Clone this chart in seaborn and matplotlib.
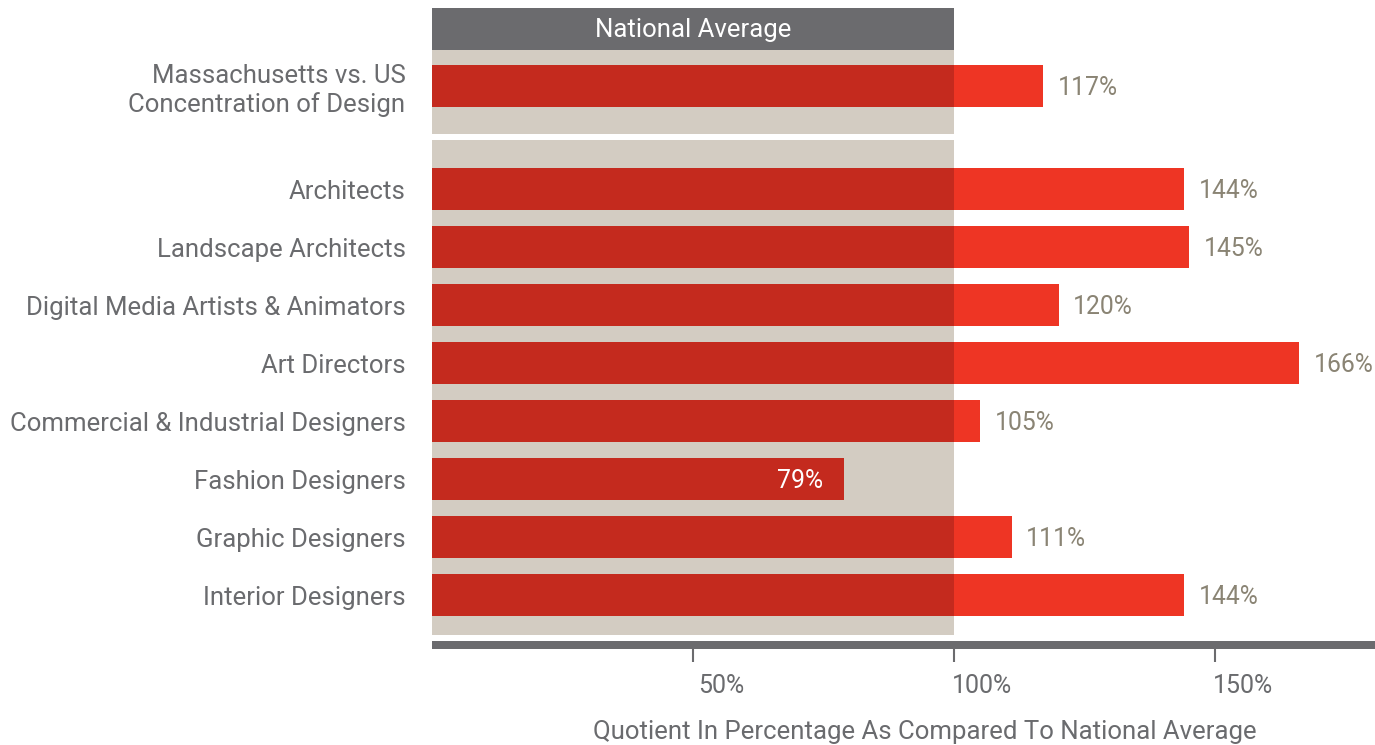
import matplotlib
matplotlib.use("Agg")
import matplotlib.pyplot as plt
import matplotlib.transforms as mtransforms
from matplotlib.patches import Rectangle
import seaborn as sns
import pandas as pd

categories = ["Massachusetts vs. US\nConcentration of Design", "Architects", "Landscape Architects",
              "Digital Media Artists & Animators", "Art Directors",
              "Commercial & Industrial Designers", "Fashion Designers",
              "Graphic Designers", "Interior Designers"]
values = [117, 144, 145, 120, 166, 105, 79, 111, 144]
tick_values = [50, 100, 150]
tick_labels = ["50%", "100%", "150%"]
header_text = "National Average"
x_label = "Quotient In Percentage As Compared To National Average"

DARK = "#c42a1e"
BRIGHT = "#ee3524"
BEIGE = "#d3ccc2"
GRAY = "#6b6b6e"
TEXT = "#6a6b6e"
VAL = "#8a8474"

sns.set_theme(style="white")
plt.rcParams["font.family"] = ["Roboto", "DejaVu Sans"]

gap = 1.776
positions = [0.0] + [gap + i for i in range(len(categories) - 1)]
df = pd.DataFrame({"cat": categories, "value": values, "pos": positions})
df["dark"] = df["value"].clip(upper=100)

fig = plt.figure(figsize=(13.75, 7.45), dpi=100)
W, H = 1375, 745
ax_top, ax_bot = 8, 645
ax = fig.add_axes([432 / W, (H - ax_bot) / H, 1 - 432 / W, (ax_bot - ax_top) / H])

sns.barplot(data=df, x="value", y="pos", orient="h", native_scale=True,
            width=0.72, color=BRIGHT, saturation=1, linewidth=0, ax=ax, zorder=2)
sns.barplot(data=df, x="dark", y="pos", orient="h", native_scale=True,
            width=0.72, color=DARK, saturation=1, linewidth=0, ax=ax, zorder=3)

px = 58.0
ax.set_xlim(0, 180.6)
ax.set_ylim((ax_bot - 86) / px, (ax_top - 86) / px)

# background band for national average
ax.add_patch(Rectangle((0, -0.62), 100, 1.45, color=BEIGE, zorder=0, lw=0))
ax.add_patch(Rectangle((0, 0.93), 100, 8.54, color=BEIGE, zorder=0, lw=0))
ax.add_patch(Rectangle((0, (ax_top - 86) / px), 100, (50 - ax_top) / px,
                       color=GRAY, zorder=1, lw=0, clip_on=False))
ax.text(50, (30 - 86) / px, header_text, ha="center", va="center",
        color="white", fontsize=18.5, zorder=4)

for v, p in zip(values, positions):
    if v >= 100:
        ax.text(v + 2.8, p + 0.03, f"{v}%", ha="left", va="center", color=VAL, fontsize=17.8, zorder=5)
    else:
        ax.text(v - 4, p + 0.03, f"{v}%", ha="right", va="center", color="white", fontsize=17.8, zorder=5)

ax.set_yticks(positions)
ax.set_yticklabels(categories, fontsize=18.5, color=TEXT, linespacing=1.2)
ax.tick_params(axis="y", length=0, pad=19)

ax.set_xticks(tick_values)
ax.set_xticklabels(tick_labels, fontsize=18, color=TEXT)
ax.tick_params(axis="x", length=12, width=1.5, color=GRAY, pad=9, direction="out", bottom=True)
offset = mtransforms.ScaledTranslation(28 / 100, 0, fig.dpi_scale_trans)
for lab in ax.get_xticklabels():
    lab.set_transform(lab.get_transform() + offset)

ax.set_xlabel(x_label, fontsize=18.5, color=TEXT)
ax.xaxis.set_label_coords(0.523, -0.117)
ax.set_ylabel("")

for s in ["top", "right", "left"]:
    ax.spines[s].set_visible(False)
ax.spines["bottom"].set_color(GRAY)
ax.spines["bottom"].set_linewidth(5.76)
ax.spines["bottom"].set_capstyle("butt")
ax.spines["bottom"].set_zorder(6)

fig.savefig("out.png", dpi=100)
